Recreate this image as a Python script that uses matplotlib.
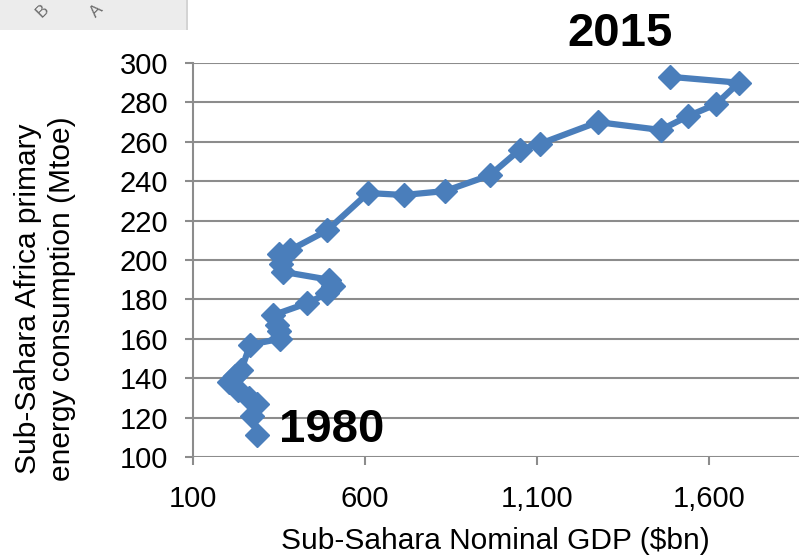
import matplotlib
matplotlib.use("Agg")
import matplotlib.pyplot as plt
from matplotlib.patches import Rectangle

plt.rcParams['font.family'] = ['Liberation Sans', 'DejaVu Sans']

# GDP ($bn) vs primary energy consumption (Mtoe), 1980 -> 2015
gdp = [286, 272, 286, 262, 232, 205, 222, 240, 266, 353, 350, 344,
       333, 431, 490, 507, 495, 362, 355, 350, 382, 490, 609, 713,
       833, 963, 1050, 1109, 1277, 1460, 1539, 1620, 1687, 1487]
energy = [111, 121, 127, 130, 134, 138, 141, 144, 157, 160, 164, 167,
          172, 178, 183, 187, 190, 194, 198, 203, 205, 215, 234, 233,
          235, 243, 256, 259, 270, 266, 273, 279, 290, 293]

xticks = [100, 600, 1100, 1600]
yticks = list(range(100, 301, 20))
blue = '#4a7ebb'
grid_col = '#8c8c8c'

fig = plt.figure(figsize=(7.99, 5.56), dpi=100)
ax = fig.add_axes([193 / 799, 99 / 556, 606 / 799, 394 / 556])

ax.plot(gdp, energy, color=blue, lw=4.5, marker='D', ms=12,
        markerfacecolor=blue, markeredgecolor=blue, zorder=3, clip_on=False)

ax.set_xlim(100, 1862)
ax.set_ylim(100, 300)
ax.set_xticks(xticks)
ax.set_xticklabels([f'{v:,}' for v in xticks])
ax.set_yticks(yticks)
ax.tick_params(axis='both', labelsize=21, colors=grid_col, labelcolor='black',
               length=6, width=1.5, direction='out')
ax.tick_params(axis='x', pad=14)
ax.tick_params(axis='y', pad=12)
ax.grid(axis='y', color=grid_col, lw=1.5)
ax.set_axisbelow(True)
for s in ['top', 'right', 'bottom']:
    ax.spines[s].set_visible(False)
ax.spines['left'].set_color(grid_col)
ax.spines['left'].set_linewidth(1.5)

ax.annotate('1980', xy=(gdp[0], energy[0]), xytext=(16, 4), textcoords='offset points',
            fontsize=34, fontweight='bold', ha='left', va='center')
fig.text(620 / 799, 1 - 34 / 556, '2015', fontsize=34, fontweight='bold',
         ha='center', va='center')

fig.text(495 / 799, 1 - 541 / 556, 'Sub-Sahara Nominal GDP ($bn)', fontsize=21.5,
         ha='center', va='center')
fig.text(45 / 799, 1 - 299 / 556, 'Sub-Sahara Africa primary\nenergy consumption (Mtoe)',
         fontsize=21.5, rotation=90, ha='center', va='center', linespacing=1.25)

# ribbon strip left over from the screenshot
fig.patches.append(Rectangle((0, 1 - 30 / 556), 187 / 799, 30 / 556,
                             transform=fig.transFigure, facecolor='#ececec',
                             edgecolor='none', zorder=0))
fig.patches.append(Rectangle((186 / 799, 1 - 30 / 556), 1.5 / 799, 30 / 556,
                             transform=fig.transFigure, facecolor='#d4d4d4',
                             edgecolor='none', zorder=1))
fig.text(42 / 799, 1 - 11 / 556, 'B', fontsize=12, rotation=45, color='#6d6d6d',
         ha='center', va='center')
fig.text(97 / 799, 1 - 11 / 556, 'A', fontsize=12, rotation=45, color='#6d6d6d',
         ha='center', va='center')

fig.savefig('out.png', dpi=100)
